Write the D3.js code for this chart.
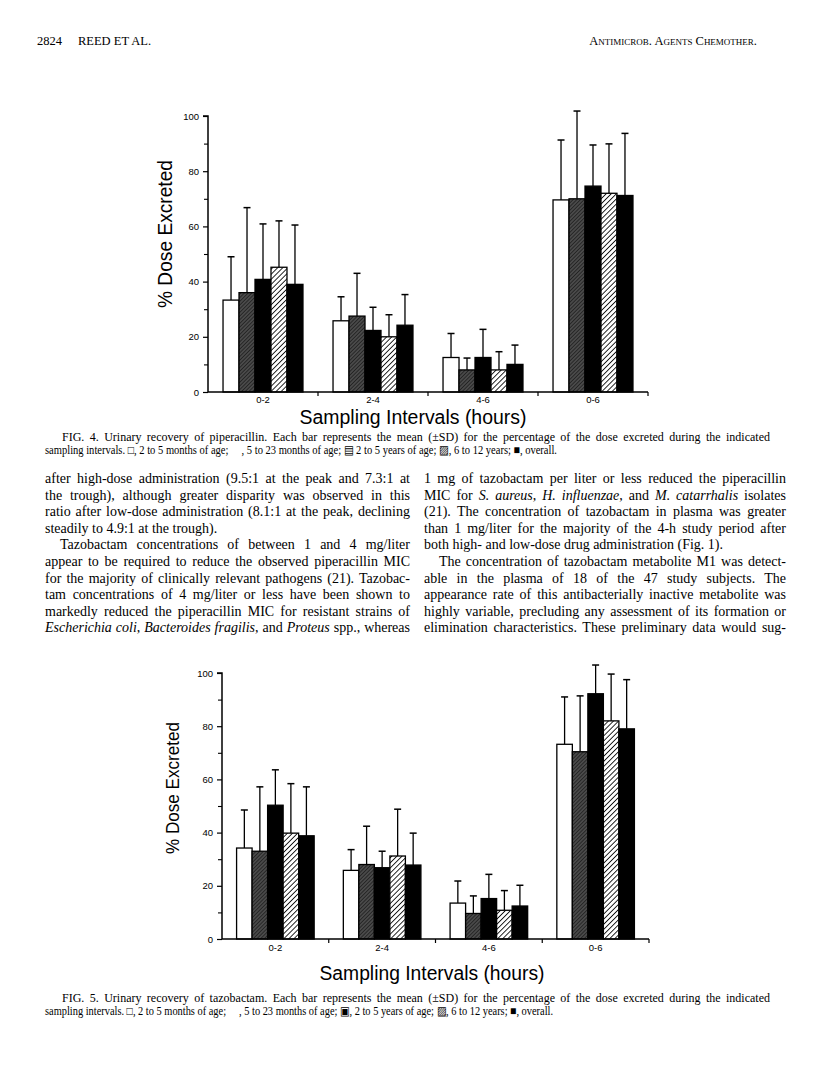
<!DOCTYPE html>
<html><head><meta charset="utf-8">
<script src="https://cdn.jsdelivr.net/npm/d3@7"></script>
<style>body{margin:0;background:#fff} svg{display:block}</style>
</head><body><svg id="page" width="816" height="1090"></svg>
<script>
// ---------- data ----------
const categories = ["0-2", "2-4", "4-6", "0-6"];
const groups = ["2 to 5 months", "5 to 23 months", "2 to 5 years", "6 to 12 years", "overall"];
const yTicks = [0, 20, 40, 60, 80, 100];
const yMinorTicks = [10, 30, 50, 70, 90];
// FIG. 4 piperacillin: mean % dose excreted, one array per group (per category order)
const pipMean = [
  [33.3, 25.8, 12.5, 69.6],
  [36.0, 27.5, 8.0, 70.0],
  [40.8, 22.3, 12.5, 74.6],
  [45.2, 20.0, 8.0, 72.0],
  [39.0, 24.2, 10.0, 71.2]
];
const pipSD = [
  [15.7, 8.7, 8.7, 21.7],
  [30.8, 15.5, 4.3, 31.8],
  [20.1, 8.4, 10.2, 14.9],
  [16.8, 8.0, 6.6, 17.9],
  [21.5, 11.1, 7.0, 22.5]
];
// FIG. 5 tazobactam
const tazMean = [
  [34.2, 25.8, 13.5, 73.2],
  [33.0, 28.0, 9.6, 70.4],
  [50.3, 26.8, 15.2, 92.2],
  [39.8, 31.2, 10.8, 82.0],
  [38.8, 27.8, 12.4, 79.0]
];
const tazSD = [
  [14.3, 7.8, 8.3, 17.8],
  [24.2, 14.4, 6.6, 21.0],
  [13.3, 6.2, 9.1, 10.8],
  [18.6, 17.6, 7.4, 17.6],
  [18.4, 12.0, 7.8, 18.5]
];
const yTitle = "% Dose Excreted";
const xTitle = "Sampling Intervals (hours)";

// ---------- text ----------
const header = {num: "2824", authors: "REED ET AL.", journal: "Antimicrob. Agents Chemother."};
const cap4 = [
  [["FIG. 4. Urinary recovery of piperacillin. Each bar represents the mean (\u00B1SD) for the percentage of the dose excreted during the indicated", 0]],
  [["sampling intervals. \u25A1, 2 to 5 months of age;     , 5 to 23 months of age; \u25A4 2 to 5 years of age; \u25A8, 6 to 12 years; \u25A0, overall.", 0]]
];
const cap5 = [
  [["FIG. 5. Urinary recovery of tazobactam. Each bar represents the mean (\u00B1SD) for the percentage of the dose excreted during the indicated", 0]],
  [["sampling intervals. \u25A1, 2 to 5 months of age;     , 5 to 23 months of age; \u25A3, 2 to 5 years of age; \u25A8, 6 to 12 years; \u25A0, overall.", 0]]
];
const leftCol = [
  [["after high-dose administration (9.5:1 at the peak and 7.3:1 at", 0]],
  [["the trough), although greater disparity was observed in this", 0]],
  [["ratio after low-dose administration (8.1:1 at the peak, declining", 0]],
  [["steadily to 4.9:1 at the trough).", 0]],
  [["Tazobactam concentrations of between 1 and 4 mg/liter", 0]],
  [["appear to be required to reduce the observed piperacillin MIC", 0]],
  [["for the majority of clinically relevant pathogens (21). Tazobac-", 0]],
  [["tam concentrations of 4 mg/liter or less have been shown to", 0]],
  [["markedly reduced the piperacillin MIC for resistant strains of", 0]],
  [["Escherichia coli", 1], [", ", 0], ["Bacteroides fragilis", 1], [", and ", 0], ["Proteus", 1], [" spp., whereas", 0]]
];
const leftJust = [1, 1, 1, 0, 1, 1, 1, 1, 1, 1];
const leftIndent = [0, 0, 0, 0, 1, 0, 0, 0, 0, 0];
const rightCol = [
  [["1 mg of tazobactam per liter or less reduced the piperacillin", 0]],
  [["MIC for ", 0], ["S. aureus", 1], [", ", 0], ["H. influenzae", 1], [", and ", 0], ["M. catarrhalis", 1], [" isolates", 0]],
  [["(21). The concentration of tazobactam in plasma was greater", 0]],
  [["than 1 mg/liter for the majority of the 4-h study period after", 0]],
  [["both high- and low-dose drug administration (Fig. 1).", 0]],
  [["The concentration of tazobactam metabolite M1 was detect-", 0]],
  [["able in the plasma of 18 of the 47 study subjects. The", 0]],
  [["appearance rate of this antibacterially inactive metabolite was", 0]],
  [["highly variable, precluding any assessment of its formation or", 0]],
  [["elimination characteristics. These preliminary data would sug-", 0]]
];
const rightJust = [1, 1, 1, 1, 0, 1, 1, 1, 1, 1];
const rightIndent = [0, 0, 0, 0, 0, 1, 0, 0, 0, 0];

// ---------- drawing ----------
const svg = d3.select("#page");
const defs = svg.append("defs");
function hatch(id, bg, fg, size, sw) {
  const p = defs.append("pattern").attr("id", id).attr("patternUnits", "userSpaceOnUse")
    .attr("width", size).attr("height", size).attr("patternTransform", "rotate(45)");
  p.append("rect").attr("width", size).attr("height", size).attr("fill", bg);
  p.append("line").attr("x1", 0).attr("y1", 0).attr("x2", 0).attr("y2", size)
    .attr("stroke", fg).attr("stroke-width", sw);
}
hatch("darkHatch", "#4a4a4a", "#111111", 2.6, 1.2);
hatch("lightHatch", "#ffffff", "#111111", 3.6, 1.8);
const fills = ["#ffffff", "url(#darkHatch)", "#000000", "url(#lightHatch)", "#000000"];

const serif = "'Liberation Serif', 'Times New Roman', serif";
const sans = "'Liberation Sans', Arial, Helvetica, sans-serif";

function drawChart(meanArr, sdArr, g) {
  const x = d3.scaleBand().domain(categories).range([g.x0, g.x1]).paddingInner(0).paddingOuter(0);
  const xs = d3.scaleBand().domain(groups).range([0, x.bandwidth()]).paddingInner(0).paddingOuter(0.94);
  const y = d3.scaleLinear().domain([0, 100]).range([g.yb, g.yt]);
  const root = svg.append("g");

  // bars
  groups.forEach((grp, gi) => {
    categories.forEach((cat, ci) => {
      const m = meanArr[gi][ci], s = sdArr[gi][ci];
      const bx = x(cat) + xs(grp), bw = xs.bandwidth();
      const cx = bx + bw / 2;
      root.append("line").attr("x1", cx).attr("x2", cx).attr("y1", y(m)).attr("y2", y(m + s))
        .attr("stroke", "#000").attr("stroke-width", 1.3);
      root.append("line").attr("x1", cx - 3.5).attr("x2", cx + 3.5).attr("y1", y(m + s)).attr("y2", y(m + s))
        .attr("stroke", "#000").attr("stroke-width", 1.5);
      root.append("rect").attr("x", bx).attr("y", y(m)).attr("width", bw).attr("height", y(0) - y(m))
        .attr("fill", fills[gi]).attr("stroke", "#000").attr("stroke-width", 1.3);
    });
  });

  // y axis
  const ya = root.append("g").attr("transform", `translate(${g.x0},0)`)
    .call(d3.axisLeft(y).tickValues(yTicks).tickSize(5).tickPadding(4).tickFormat(d3.format("d")));
  ya.select(".domain").attr("stroke-width", 1.5).attr("d", `M-5,${g.yt}H0V${g.yb}`);
  ya.selectAll(".tick line").attr("stroke-width", 1.2);
  ya.selectAll("text").attr("font-family", sans).attr("font-size", g.tickFs).attr("fill", "#000");
  root.append("g").attr("transform", `translate(${g.x0},0)`)
    .call(d3.axisLeft(y).tickValues(yMinorTicks).tickSize(4).tickFormat(""))
    .call(s => s.select(".domain").remove())
    .selectAll(".tick line").attr("stroke-width", 1.1);

  // x axis
  const xa = root.append("g").attr("transform", `translate(0,${g.yb})`)
    .call(d3.axisBottom(x).tickSize(0).tickPadding(g.xPad));
  xa.select(".domain").attr("stroke-width", 1.5).attr("d", `M${g.x0},0H${g.x1}`);
  xa.selectAll("text").attr("font-family", sans).attr("font-size", g.tickFs).attr("fill", "#000");
  categories.forEach(c => {
    const tx = x(c) + x.bandwidth();
    root.append("line").attr("x1", tx).attr("x2", tx).attr("y1", g.yb).attr("y2", g.yb + 4)
      .attr("stroke", "#000").attr("stroke-width", 1.2);
  });

  // titles
  root.append("text").attr("transform", `translate(${g.ytx},${g.yty}) rotate(-90)`)
    .attr("text-anchor", "middle").attr("font-family", sans).attr("font-size", g.ytFs)
    .attr("textLength", g.ytLen).attr("lengthAdjust", "spacingAndGlyphs").text(yTitle);
  root.append("text").attr("x", g.xtx).attr("y", g.xty)
    .attr("text-anchor", "middle").attr("font-family", sans).attr("font-size", g.xtFs)
    .attr("textLength", g.xtLen).attr("lengthAdjust", "spacingAndGlyphs").text(xTitle);
}

drawChart(pipMean, pipSD, {x0: 208, x1: 648, yb: 392, yt: 116, tickFs: 9.5, xPad: 4,
  ytx: 172, yty: 234, ytFs: 21, ytLen: 148, xtx: 413, xty: 424, xtFs: 20, xtLen: 227});
drawChart(tazMean, tazSD, {x0: 222, x1: 649, yb: 939, yt: 673, tickFs: 9.5, xPad: 5,
  ytx: 179, yty: 788, ytFs: 19, ytLen: 132, xtx: 432, xty: 980, xtFs: 20, xtLen: 225});

// text helpers
function textLine(x0, yb, segs, fs, width, justify) {
  const t = svg.append("text").attr("x", x0).attr("y", yb)
    .attr("font-family", serif).attr("font-size", fs).attr("fill", "#000")
    .style("white-space", "pre");
  segs.forEach(([s, it]) => t.append("tspan").attr("font-style", it ? "italic" : "normal").text(s));
  const nat = t.node().getComputedTextLength();
  if (width && nat > width) {
    t.attr("textLength", width).attr("lengthAdjust", "spacingAndGlyphs");
  } else if (justify && width) {
    const full = segs.map(s => s[0]).join("");
    const nsp = (full.match(/ /g) || []).length;
    if (nsp > 0) t.attr("word-spacing", (width - nat) / nsp);
  }
  return t;
}

// header
svg.append("text").attr("x", 37).attr("y", 45).attr("font-family", serif).attr("font-size", 12.5)
  .attr("fill", "#000").text(header.num);
svg.append("text").attr("x", 78).attr("y", 45).attr("font-family", serif).attr("font-size", 12.5)
  .attr("fill", "#000").text(header.authors);
svg.append("text").attr("x", 757).attr("y", 45).attr("text-anchor", "end").attr("font-family", serif)
  .attr("font-size", 12.5).style("font-variant", "small-caps").attr("fill", "#000").text(header.journal);

// captions
textLine(62, 441, cap4[0], 12, 708, true);
textLine(45, 454, cap4[1], 12, 512, false);
textLine(62, 1002, cap5[0], 12, 708, true);
textLine(45, 1015, cap5[1], 12, 508, false);

// body columns
const lineH = 16.6, bodyTop = 483, bodyFs = 14, indent = 15;
leftCol.forEach((segs, i) => {
  const x0 = 45 + (leftIndent[i] ? indent : 0);
  textLine(x0, bodyTop + i * lineH, segs, bodyFs, 410 - x0, leftJust[i]);
});
rightCol.forEach((segs, i) => {
  const x0 = 424 + (rightIndent[i] ? indent : 0);
  textLine(x0, bodyTop + i * lineH, segs, bodyFs, 786 - x0, rightJust[i]);
});
</script>
</body></html>
